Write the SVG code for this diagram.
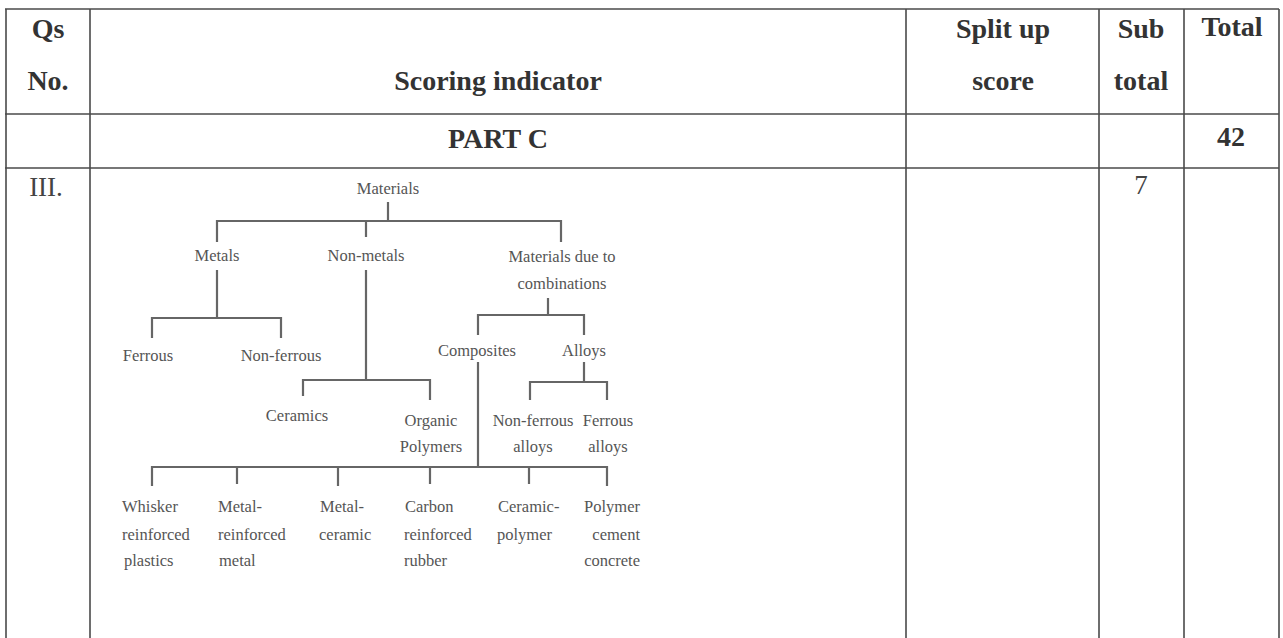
<svg xmlns="http://www.w3.org/2000/svg" width="1283" height="638" viewBox="0 0 1283 638">
<style>
.grid{stroke:#4a4a4a;stroke-width:1.6;fill:none}
.hd{font-family:"Liberation Serif",serif;font-weight:bold;font-size:28px;fill:#333;text-anchor:middle}
.rg{font-family:"Liberation Serif",serif;font-size:27px;fill:#444;text-anchor:middle}
.t{font-family:"Liberation Serif",serif;font-size:16.5px;fill:#555;text-anchor:middle}
.tl{text-anchor:start}
.tr{text-anchor:end}
.ln{stroke:#666;stroke-width:2.2;fill:none}
</style>
<rect width="1283" height="638" fill="#fff"/>
<g id="table" class="grid">
<line x1="5" y1="9" x2="1279" y2="9"/>
<line x1="5" y1="114" x2="1279" y2="114"/>
<line x1="5" y1="168" x2="1279" y2="168"/>
<line x1="6" y1="9" x2="6" y2="638"/>
<line x1="90" y1="9" x2="90" y2="638"/>
<line x1="906" y1="9" x2="906" y2="638"/>
<line x1="1099" y1="9" x2="1099" y2="638"/>
<line x1="1184" y1="9" x2="1184" y2="638"/>
<line x1="1279" y1="9" x2="1279" y2="638"/>
</g>
<g id="headers">
<text class="hd" x="48" y="38">Qs</text>
<text class="hd" x="48" y="90">No.</text>
<text class="hd" x="498" y="90">Scoring indicator</text>
<text class="hd" x="1003" y="38">Split up</text>
<text class="hd" x="1003" y="90">score</text>
<text class="hd" x="1141" y="38">Sub</text>
<text class="hd" x="1141" y="90">total</text>
<text class="hd" x="1232" y="36">Total</text>
<text class="hd" x="498" y="148">PART C</text>
<text class="hd" x="1231" y="146">42</text>
<text class="rg" x="46" y="196">III.</text>
<text class="rg" x="1141" y="194">7</text>
</g>
<g id="connectors" class="ln">
<path d="M388 202V221M217 242V221H561V242M366 221V237"/>
<path d="M217 270V318M152 338V318H281V338"/>
<path d="M366 270V380M303 396V380H430V400"/>
<path d="M548 298V315M478 335V315H584V335"/>
<path d="M584 362V382M530 400V382H607V400"/>
<path d="M478 362V467M152 486V467H607V486M237 467V484M338 467V486M430 467V484M529 467V484"/>
</g>
<g id="n-materials"><text class="t" x="388" y="194">Materials</text></g>
<g id="n-metals"><text class="t" x="217" y="261">Metals</text></g>
<g id="n-nonmetals"><text class="t" x="366" y="261">Non-metals</text></g>
<g id="n-combinations"><text class="t" x="562" y="262">Materials due to</text><text class="t" x="562" y="289">combinations</text></g>
<g id="n-ferrous"><text class="t" x="148" y="361">Ferrous</text></g>
<g id="n-nonferrous"><text class="t" x="281" y="361">Non-ferrous</text></g>
<g id="n-composites"><text class="t" x="477" y="356">Composites</text></g>
<g id="n-alloys"><text class="t" x="584" y="356">Alloys</text></g>
<g id="n-ceramics"><text class="t" x="297" y="421">Ceramics</text></g>
<g id="n-organic"><text class="t" x="431" y="426">Organic</text><text class="t" x="431" y="452">Polymers</text></g>
<g id="n-nfalloys"><text class="t" x="533" y="426">Non-ferrous</text><text class="t" x="533" y="452">alloys</text></g>
<g id="n-falloys"><text class="t" x="608" y="426">Ferrous</text><text class="t" x="608" y="452">alloys</text></g>
<g id="n-whisker"><text class="t tl" x="122" y="512">Whisker</text><text class="t tl" x="122" y="540">reinforced</text><text class="t tl" x="124" y="566">plastics</text></g>
<g id="n-metalreinforced"><text class="t tl" x="218" y="512">Metal-</text><text class="t tl" x="218" y="540">reinforced</text><text class="t tl" x="219" y="566">metal</text></g>
<g id="n-metalceramic"><text class="t tl" x="320" y="512">Metal-</text><text class="t tl" x="319" y="540">ceramic</text></g>
<g id="n-carbon"><text class="t tl" x="405" y="512">Carbon</text><text class="t tl" x="404" y="540">reinforced</text><text class="t tl" x="404" y="566">rubber</text></g>
<g id="n-ceramicpolymer"><text class="t tl" x="498" y="512">Ceramic-</text><text class="t tl" x="497" y="540">polymer</text></g>
<g id="n-pcc"><text class="t tr" x="640" y="512">Polymer</text><text class="t tr" x="640" y="540">cement</text><text class="t tr" x="640" y="566">concrete</text></g>
</svg>
